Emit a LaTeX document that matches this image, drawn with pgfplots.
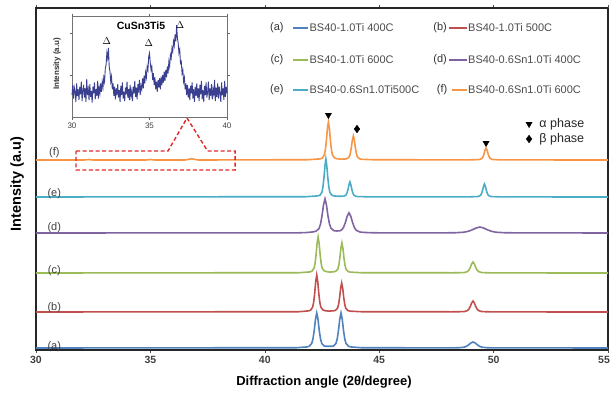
\documentclass[border=0pt]{standalone}
\usepackage{fontspec}
\setmainfont{Liberation Sans}
\usepackage{pgfplots}
\pgfplotsset{compat=1.18}
\definecolor{ca}{HTML}{4F81BD}
\definecolor{cb}{HTML}{C0504D}
\definecolor{cc}{HTML}{9BBB59}
\definecolor{cd}{HTML}{8064A2}
\definecolor{ce}{HTML}{4BACC6}
\definecolor{cf}{HTML}{F79646}
\definecolor{cin}{HTML}{3A3F8F}
\definecolor{cred}{HTML}{E02828}
\begin{document}
\begin{tikzpicture}
\useasboundingbox (0,0) rectangle (611pt,392pt);
\begin{axis}[name=main, at={(36pt,42pt)}, anchor=south west, scale only axis,
  width=572pt, height=342pt, xmin=30, xmax=55, ymin=0, ymax=342,
  xtick={30,35,...,50}, extra x ticks={55},
  extra x tick style={xticklabel style={xshift=-4pt}},
  ytick=\empty, tick align=outside, major tick length=3pt,
  axis line style={line width=1.2pt, black!85},
  every tick/.style={black!70, line width=0.6pt},
  tick label style={font=\bfseries\fontsize{10.5}{12}\selectfont, text=black!75},
  /pgf/number format/assume math mode=true,
  xlabel={\bfseries Diffraction angle (2θ/degree)},
  xlabel style={at={(axis description cs:0.5035,-0.0936)}, anchor=center, font=\fontsize{13}{15}\selectfont},
  ylabel={\bfseries Intensity (a.u)},
  ylabel style={at={(axis description cs:-0.033,0.485)}, anchor=center, font=\fontsize{14.5}{16}\selectfont},
  clip=false]
% (a)
\addplot[ca, line width=1.6pt] coordinates {(30,2) (41.4,2.3) (41.83,3.05) (41.94,3.75) (42.05,6.55) (42.105,11.1) (42.16,19.5) (42.215,30.7) (42.27,37) (42.325,30.7) (42.38,19.5) (42.435,11.1) (42.49,6.6) (42.6,4.0) (42.71,3.7) (42.8,3.8) (42.89,3.7) (43.0,4.0) (43.11,6.6) (43.165,11.1) (43.22,19.5) (43.275,30.7) (43.33,37) (43.385,30.7) (43.44,19.5) (43.495,11.1) (43.55,6.55) (43.66,3.75) (43.77,3.05) (44.2,2.3) (48.2,2.1) (48.3,2.18) (48.5,2.3) (48.7,2.78) (48.8,3.56) (48.9,5) (49.0,6.92) (49.1,8) (49.2,6.92) (49.3,5) (49.4,3.56) (49.5,2.78) (49.7,2.3) (49.9,2.18) (55,2)};
% (b)
\addplot[cb, line width=1.6pt] coordinates {(30,38) (41.5,38.3) (41.91,39.11) (42.0,39.85) (42.09,42.81) (42.135,47.62) (42.18,56.5) (42.225,68.34) (42.27,75) (42.315,68.34) (42.36,56.5) (42.405,47.62) (42.45,42.81) (42.54,40.15) (42.63,39.3) (42.8,38.9) (43.0,39.2) (43.09,39.65) (43.18,41.77) (43.225,45.54) (43.27,52.5) (43.315,61.78) (43.36,67) (43.405,61.78) (43.45,52.5) (43.495,45.54) (43.54,41.77) (43.63,39.45) (43.72,38.87) (44.2,38.3) (48.2,38.2) (48.62,38.33) (48.74,38.55) (48.86,39.43) (48.92,40.86) (48.98,43.5) (49.04,47.02) (49.1,49) (49.16,47.02) (49.22,43.5) (49.28,40.86) (49.34,39.43) (49.46,38.55) (49.58,38.33) (50,38.1) (55,38)};
% (c)
\addplot[cc, line width=1.6pt] coordinates {(30,77) (41.5,77.3) (41.97,78.08) (42.06,78.8) (42.15,81.68) (42.195,86.36) (42.24,95) (42.285,106.52) (42.33,113) (42.375,106.52) (42.42,95) (42.465,86.36) (42.51,81.68) (42.6,79.1) (42.69,78.4) (42.85,77.9) (43.01,78.2) (43.1,78.7) (43.19,80.9) (43.235,84.8) (43.28,92) (43.325,101.6) (43.37,107) (43.415,101.6) (43.46,92) (43.505,84.8) (43.55,80.9) (43.64,78.5) (43.73,77.9) (44.2,77.3) (48.2,77.2) (48.62,77.33) (48.74,77.55) (48.86,78.43) (48.92,79.86) (48.98,82.5) (49.04,86.02) (49.1,88) (49.16,86.02) (49.22,82.5) (49.28,79.86) (49.34,78.43) (49.46,77.55) (49.58,77.33) (50,77.1) (55,77)};
% (d)
\addplot[cd, line width=1.6pt] coordinates {(30,117) (41.5,117.2) (41.85,117.5) (42.11,118.1) (42.24,118.8) (42.37,121.5) (42.435,125.9) (42.5,134.1) (42.565,145) (42.63,151.1) (42.695,145.1) (42.76,134.3) (42.825,126.2) (42.89,121.8) (43.02,119.3) (43.15,119) (43.28,119.2) (43.36,120.1) (43.44,122.6) (43.52,127.3) (43.6,133.7) (43.68,137.2) (43.76,133.6) (43.84,127.2) (43.92,122.3) (44.0,119.7) (44.16,118) (44.32,117.6) (44.64,117.3) (45.2,117.1) (48.0,117.2) (48.35,117.3) (48.7,117.8) (48.875,118.6) (49.05,120) (49.225,121.9) (49.4,123) (49.575,121.9) (49.75,120) (49.925,118.6) (50.1,117.8) (50.45,117.3) (50.8,117.2) (55,117)};
% (e)
\addplot[ce, line width=1.6pt] coordinates {(30,153) (41.8,153.3) (42.33,154.14) (42.415,154.9) (42.5,157.94) (42.54,162.88) (42.585,172) (42.63,184.16) (42.67,191) (42.71,184.16) (42.755,172) (42.8,162.88) (42.84,157.94) (42.925,154.9) (43.01,154.14) (43.2,153.7) (43.38,153.8) (43.465,153.9) (43.55,154.95) (43.59,156.9) (43.635,160.5) (43.68,165.3) (43.72,168) (43.76,165.3) (43.805,160.5) (43.85,156.9) (43.89,154.95) (43.975,153.75) (44.06,153.45) (44.5,153.2) (48.8,153.1) (49.26,153.39) (49.345,153.65) (49.43,154.69) (49.47,156.38) (49.515,159.5) (49.56,163.66) (49.6,166) (49.64,163.66) (49.685,159.5) (49.73,156.38) (49.77,154.69) (49.855,153.65) (49.94,153.39) (50.4,153.1) (55,153)};
% (f)
\addplot[cf, line width=1.6pt] coordinates {(30,190) (32.1,190) (32.3,190.5) (32.5,190) (34.8,190) (35.0,190.5) (35.2,190) (36.5,190) (36.7,190.8) (36.8,191.3) (36.9,190.8) (37.1,190) (41.9,190.3) (42.42,191.14) (42.51,191.9) (42.6,194.94) (42.645,199.88) (42.69,209) (42.735,221.16) (42.78,228) (42.825,221.16) (42.87,209) (42.915,199.88) (42.96,194.94) (43.05,192.0) (43.14,191.3) (43.33,190.9) (43.51,191.0) (43.6,191.4) (43.69,193.2) (43.735,196.24) (43.78,202) (43.825,209.68) (43.87,214) (43.915,209.68) (43.96,202) (44.005,196.24) (44.05,193.12) (44.14,191.2) (44.23,190.72) (44.7,190.3) (48.8,190.1) (49.31,190.36) (49.4,190.6) (49.49,191.56) (49.535,193.12) (49.58,196) (49.625,199.84) (49.67,202) (49.715,199.84) (49.76,196) (49.805,193.12) (49.85,191.56) (49.94,190.6) (50.03,190.36) (50.5,190.1) (55,190)};
% phase markers
\addplot[only marks, mark=triangle*, mark size=3.6pt, mark options={rotate=180, fill=black, draw=black}] coordinates {(42.78,235) (49.67,207) (51.55,226)};
\addplot[only marks, mark=diamond*, mark size=3.8pt, mark options={fill=black, draw=black}] coordinates {(44.03,221) (51.55,211)};
\node[anchor=west, font=\fontsize{12.5}{14}\selectfont, text=black!85] at (axis cs:51.85,226) {α phase};
\node[anchor=west, font=\fontsize{12.5}{14}\selectfont, text=black!85] at (axis cs:51.85,211) {β phase};
% curve labels
\tikzset{cl/.style={font=\fontsize{11}{12}\selectfont, text=black!75}}
\node[cl] at (axis cs:30.8,3) {(a)};
\node[cl] at (axis cs:30.8,42) {(b)};
\node[cl] at (axis cs:30.8,79) {(c)};
\node[cl] at (axis cs:30.8,122) {(d)};
\node[cl] at (axis cs:30.8,156) {(e)};
\node[cl] at (axis cs:30.8,197) {(f)};
% red callout
\draw[cred, line width=1.4pt, dash pattern=on 4pt off 2.5pt] (axis cs:31.75,199) -- (axis cs:35.77,199) -- (axis cs:36.6,232) -- (axis cs:37.5,199) -- (axis cs:38.7,199) -- (axis cs:38.7,180) -- (axis cs:31.75,180) -- cycle;
% legend
\tikzset{lgt/.style={anchor=west, font=\fontsize{11}{12}\selectfont, text=black!70, inner sep=0pt},
         lgl/.style={font=\fontsize{11}{12}\selectfont, text=black!80, inner sep=0pt}}
\node[lgl] at (axis cs:40.53,322) {(a)};
\draw[ca, line width=1.1pt] (axis cs:41.23,322) -- (axis cs:41.89,322);
\node[lgt] at (axis cs:41.95,322) {BS40-1.0Ti 400C};
\node[lgl] at (axis cs:47.66,322) {(b)};
\draw[cb, line width=1.1pt] (axis cs:48.05,322) -- (axis cs:48.84,322);
\node[lgt] at (axis cs:48.88,322) {BS40-1.0Ti 500C};
\node[lgl] at (axis cs:40.53,290) {(c)};
\draw[cc, line width=1.1pt] (axis cs:41.23,290) -- (axis cs:41.89,290);
\node[lgt] at (axis cs:41.95,290) {BS40-1.0Ti 600C};
\node[lgl] at (axis cs:47.66,290) {(d)};
\draw[cd, line width=1.1pt] (axis cs:48.05,290) -- (axis cs:48.84,290);
\node[lgt] at (axis cs:48.88,290) {BS40-0.6Sn1.0Ti 400C};
\node[lgl] at (axis cs:40.53,260) {(e)};
\draw[ce, line width=1.1pt] (axis cs:41.23,260) -- (axis cs:41.89,260);
\node[lgt] at (axis cs:41.95,260) {BS40-0.6Sn1.0Ti500C};
\node[lgl] at (axis cs:47.75,260) {(f)};
\draw[cf, line width=1.1pt] (axis cs:48.2,260) -- (axis cs:48.84,260);
\node[lgt] at (axis cs:48.88,260) {BS40-0.6Sn1.0Ti 600C};
\end{axis}
% inset
\begin{axis}[at={(72pt,275pt)}, anchor=south west, scale only axis,
  width=155pt, height=101pt, xmin=30, xmax=40, ymin=0, ymax=1200,
  xtick={30,35,40}, ytick={500,1000}, yticklabels={}, tick align=outside, major tick length=2.5pt,
  axis background/.style={fill=white},
  axis line style={line width=0.8pt, black!55},
  every tick/.style={black!60, line width=0.5pt},
  tick label style={font=\fontsize{8}{9}\selectfont, text=black!75},
  /pgf/number format/assume math mode=true,
  ylabel={\bfseries Intensity (a.u)},
  ylabel style={at={(axis description cs:-0.097,0.525)}, anchor=center, font=\fontsize{8}{9}\selectfont, text=black!80},
  clip=false]
\addplot[cin, line width=0.9pt] coordinates {
(30.00,260) (30.05,380) (30.10,220) (30.15,350) (30.20,300) (30.25,180) (30.30,400) (30.35,250) (30.40,330) (30.45,200)
(30.50,360) (30.55,270) (30.60,420) (30.65,190) (30.70,310) (30.75,380) (30.80,230) (30.85,340) (30.90,180) (30.95,450)
(31.00,260) (31.05,330) (31.10,200) (31.15,390) (31.20,240) (31.25,310) (31.30,170) (31.35,360) (31.40,280) (31.45,410)
(31.50,210) (31.55,330) (31.60,250) (31.65,430) (31.70,220) (31.75,350) (31.80,280) (31.85,400) (31.90,300) (31.95,420)
(32.00,350) (32.05,470) (32.10,420) (32.15,580) (32.20,620) (32.25,760) (32.30,700) (32.35,820) (32.40,600) (32.45,540)
(32.50,420) (32.55,480) (32.60,330) (32.65,400) (32.70,250) (32.75,360) (32.80,210) (32.85,340) (32.90,260) (32.95,390)
(33.00,230) (33.05,320) (33.10,180) (33.15,370) (33.20,260) (33.25,410) (33.30,220) (33.35,300) (33.40,190) (33.45,350)
(33.50,270) (33.55,420) (33.60,230) (33.65,330) (33.70,200) (33.75,380) (33.80,250) (33.85,310) (33.90,190) (33.95,360)
(34.00,280) (34.05,430) (34.10,240) (34.15,350) (34.20,210) (34.25,390) (34.30,290) (34.35,440) (34.40,260) (34.45,370)
(34.50,330) (34.55,460) (34.60,340) (34.65,490) (34.70,400) (34.75,530) (34.80,470) (34.85,600) (34.90,560) (34.95,720)
(35.00,760) (35.05,640) (35.10,560) (35.15,600) (35.20,440) (35.25,520) (35.30,380) (35.35,470) (35.40,330) (35.45,420)
(35.50,300) (35.55,440) (35.60,350) (35.65,460) (35.70,330) (35.75,480) (35.80,380) (35.85,500) (35.90,410) (35.95,540)
(36.00,430) (36.05,560) (36.10,470) (36.15,600) (36.20,520) (36.25,660) (36.30,600) (36.35,740) (36.40,700) (36.45,820)
(36.50,780) (36.55,900) (36.60,850) (36.65,980) (36.70,900) (36.75,1090) (36.80,940) (36.85,880) (36.90,760) (36.95,800)
(37.00,640) (37.05,660) (37.10,520) (37.15,560) (37.20,420) (37.25,470) (37.30,330) (37.35,400) (37.40,260) (37.45,380)
(37.50,230) (37.55,340) (37.60,200) (37.65,370) (37.70,280) (37.75,410) (37.80,220) (37.85,330) (37.90,180) (37.95,360)
(38.00,250) (38.05,400) (38.10,230) (38.15,340) (38.20,190) (38.25,380) (38.30,270) (38.35,430) (38.40,210) (38.45,320)
(38.50,180) (38.55,370) (38.60,260) (38.65,410) (38.70,230) (38.75,300) (38.80,420) (38.85,200) (38.90,340) (38.95,250)
(39.00,390) (39.05,210) (39.10,330) (39.15,270) (39.20,440) (39.25,190) (39.30,350) (39.35,240) (39.40,400) (39.45,220)
(39.50,360) (39.55,280) (39.60,180) (39.65,410) (39.70,260) (39.75,340) (39.80,200) (39.85,430) (39.90,240) (39.95,360)
(40.00,280)};
\node[font=\bfseries\fontsize{10.5}{12}\selectfont] at (axis cs:34.45,1090) {CuSn3Ti5};
\node[font=\fontsize{10}{12}\selectfont] at (axis cs:32.25,900) {$\Delta$};
\node[font=\fontsize{10}{12}\selectfont] at (axis cs:34.95,880) {$\Delta$};
\node[font=\fontsize{10}{12}\selectfont] at (axis cs:36.97,1095) {$\Delta$};
\end{axis}
\end{tikzpicture}
\end{document}
